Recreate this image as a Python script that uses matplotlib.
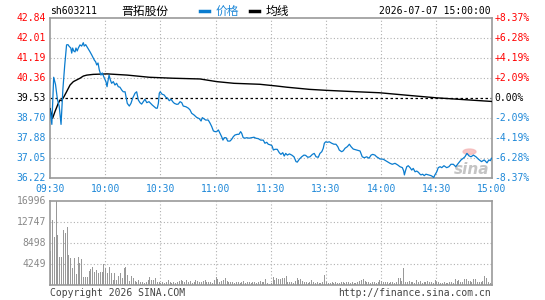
import numpy as np
import matplotlib as mpl
mpl.use('Agg')
import matplotlib.pyplot as plt
from matplotlib.lines import Line2D
from matplotlib.patches import Ellipse

# header / axis texts
symbol = 'sh603211'
name = '晋拓股份'
stamp = '2026-07-07 15:00:00'
prev_close = 39.53
price_levels = [42.84, 42.01, 41.19, 40.36, 39.53, 38.70, 37.88, 37.05, 36.22]
pct_labels = ['+8.37%', '+6.28%', '+4.19%', '+2.09%', '0.00%',
              '-2.09%', '-4.19%', '-6.28%', '-8.37%']
time_labels = ['09:30', '10:00', '10:30', '11:00', '11:30',
               '13:30', '14:00', '14:30', '15:00']
vol_levels = [16996, 12747, 8498, 4249]

# price line (minutes after open, price)
price_t = [0, 1, 2, 3, 4, 5, 6, 7, 8, 9, 9.8, 10.3, 11.3, 11.8, 12.3, 12.9, 13.6,
           14.1, 14.8, 15.4, 16.3, 17.2, 18.1, 18.6, 19.4, 20.5, 21.7, 22.7, 24.1,
           24.8, 25.4, 26.1, 26.8, 27.7, 28.4, 29.5, 30.4, 31.0, 31.3, 32.1, 32.8,
           33.5, 34.4, 35.3, 36.2, 37.1, 38.0, 39.0, 39.8, 40.8, 41.3, 42.0, 43.1,
           44.0, 44.9, 46.2, 47.1, 48.0, 48.9, 49.8, 50.7, 51.6, 52.6, 53.8, 54.7,
           55.6, 56.7, 57.6, 58.3, 58.9, 59.4, 59.9, 60.9, 62.0, 63.0, 64.0, 64.8,
           65.8, 66.7, 67.6, 68.9, 69.7, 70.7, 71.6, 72.4, 73.9, 75.2, 76.1, 77.0,
           78.3, 79.7, 81.1, 82.1, 82.8, 84.6, 86.0, 87.0, 87.9, 88.8, 89.7, 90.6,
           91.5, 92.4, 93.3, 94.0, 94.7, 95.7, 96.6, 97.8, 98.7, 99.6, 100.5, 101.8,
           102.7, 103.6, 104.2, 105.0, 106.0, 106.9, 108.2, 109.6, 110.9, 111.8,
           113.2, 114.5, 115.9, 116.8, 117.8, 118.6, 119.9, 120.7, 121.4, 122.3,
           123.5, 124.6, 125.5, 126.5, 127.3, 128.1, 129.0, 130.1, 131.4, 132.6,
           133.7, 134.4, 135.5, 136.8, 138.0, 138.9, 140.1, 141.3, 142.6, 143.6,
           144.6, 145.8, 146.7, 147.7, 148.5, 149.1, 149.8, 150.7, 151.8, 153.1,
           154.3, 155.4, 156.4, 157.2, 158.5, 159.4, 160.3, 161.6, 162.7, 163.6,
           164.8, 166.7, 168.5, 169.7, 170.8, 172.1, 173.4, 174.5, 175.4, 176.6,
           177.5, 178.4, 179.3, 181.1, 182.4, 183.9, 184.8, 186.0, 187.5, 189.0,
           190.2, 191.5, 192.2, 192.6, 193.3, 193.9, 194.7, 195.7, 196.6, 197.4,
           198.4, 199.3, 200.2, 201.1, 201.6, 202.5, 203.4, 204.3, 205.6, 207.1,
           208.0, 208.5, 209.2, 210.2, 211.0, 212.0, 212.9, 214.1, 215.6, 216.8,
           217.9, 219.2, 220.5, 221.9, 223.4, 224.6, 225.5, 226.6, 227.7, 228.8,
           230.1, 231.5, 233.0, 234.5, 236.0, 237.5, 238.5, 239.3, 240.0]
price_v = [39.05, 38.45, 40.40, 40.10, 39.50, 39.20, 38.45, 39.90, 40.90, 41.74,
           41.75, 41.69, 41.61, 41.40, 41.61, 41.49, 41.45, 41.61, 41.49, 41.61,
           41.74, 41.69, 41.83, 41.69, 41.75, 41.61, 41.46, 41.32, 41.11, 41.04,
           40.91, 40.99, 40.70, 40.49, 40.58, 40.37, 40.22, 40.01, 40.16, 40.49,
           40.29, 40.15, 40.22, 40.08, 40.15, 40.01, 39.99, 39.87, 39.80, 39.80,
           39.60, 39.32, 39.21, 39.32, 39.53, 39.74, 39.80, 39.46, 39.35, 39.29,
           39.39, 39.49, 39.35, 39.39, 39.32, 39.25, 39.18, 39.12, 39.12, 39.32,
           39.74, 39.80, 39.70, 39.67, 39.57, 39.53, 39.43, 39.49, 39.39, 39.32,
           39.28, 39.29, 39.39, 39.35, 39.21, 39.18, 39.12, 39.05, 38.91, 38.84,
           38.74, 38.69, 38.59, 38.73, 38.63, 38.63, 38.50, 38.36, 38.18, 38.15,
           38.15, 38.22, 38.08, 37.94, 37.80, 37.90, 37.90, 37.76, 37.76, 37.83,
           37.94, 38.01, 38.04, 38.04, 38.15, 38.08, 37.90, 37.88, 37.90, 37.88,
           37.90, 37.92, 37.88, 37.86, 37.80, 37.80, 37.67, 37.71, 37.63, 37.60,
           37.56, 37.39, 37.42, 37.42, 37.28, 37.21, 37.28, 37.14, 37.25, 37.18,
           37.23, 37.18, 37.11, 36.91, 36.89, 37.01, 37.11, 37.18, 37.17, 37.09,
           37.11, 37.21, 37.25, 37.11, 37.09, 37.25, 37.32, 37.46, 37.67, 37.73,
           37.71, 37.73, 37.67, 37.63, 37.63, 37.53, 37.39, 37.32, 37.36, 37.46,
           37.53, 37.63, 37.53, 37.43, 37.39, 37.35, 37.11, 37.07, 37.11, 37.05,
           37.18, 37.21, 37.18, 37.11, 37.07, 37.02, 37.01, 36.95, 36.88, 36.84,
           36.80, 36.84, 36.77, 36.70, 36.66, 36.53, 36.36, 36.56, 36.70, 36.74,
           36.66, 36.56, 36.63, 36.49, 36.52, 36.47, 36.39, 36.36, 36.39, 36.33,
           36.39, 36.36, 36.33, 36.29, 36.25, 36.36, 36.49, 36.66, 36.70, 36.66,
           36.74, 36.66, 36.70, 36.80, 36.80, 36.70, 36.84, 36.98, 37.05, 37.11,
           37.25, 37.15, 37.11, 37.18, 37.11, 37.00, 36.91, 36.98, 36.86, 36.98,
           36.95, 37.05]

# average price line
avg_t = [0, 1.4, 2.7, 4.5, 5.4, 6.3, 7.6, 9, 10.9, 12.7, 14.5, 16.3, 18.1, 20,
         23.5, 31, 42, 54, 67, 81.5, 90.6, 100, 114, 123, 128.6, 141, 150, 167,
         179, 195, 210, 220, 230, 240]
avg_v = [39.10, 38.70, 38.98, 39.32, 39.46, 39.43, 39.60, 39.80, 40.08, 40.22,
         40.29, 40.36, 40.45, 40.49, 40.52, 40.54, 40.49, 40.40, 40.36, 40.33,
         40.22, 40.15, 40.11, 40.04, 39.99, 39.90, 39.86, 39.80, 39.76, 39.65,
         39.55, 39.50, 39.45, 39.40]

# volume per minute, 09:30 .. 15:00 (241 bars)
vol = [6880, 13150, 9640, 16996, 10120, 5730, 5730, 11130, 10450, 11800,
       6070, 5400, 3510, 5530, 2160, 5730, 4380, 5260, 1690, 1690,
       1690, 2830, 3240, 3710, 2700, 3030, 2360, 2700, 2560, 4180,
       3370, 2360, 3710, 2360, 1010, 2360, 1010, 1820, 2360, 1350,
       3510, 3710, 2020, 810, 1890, 1350, 810, 540, 1010, 540,
       540, 340, 540, 1010, 1690, 1010, 1010, 1350, 540, 540,
       340, 540, 340, 540, 1010, 680, 340, 540, 340, 540,
       810, 1010, 810, 680, 1010, 540, 810, 470, 670, 1010,
       810, 540, 670, 810, 1010, 540, 670, 540, 470, 1010,
       1690, 1150, 670, 810, 1010, 1350, 810, 670, 540, 670,
       470, 540, 670, 470, 540, 810, 470, 670, 540, 470,
       540, 670, 470, 540, 810, 540, 670, 1150, 340, 200,
       470, 1690, 1010, 1350, 1150, 1210, 1350, 1480, 1890, 670,
       540, 670, 470, 810, 1350, 1010, 1150, 810, 540, 670,
       470, 670, 1010, 540, 470, 540, 340, 470, 670, 2020,
       540, 470, 340, 540, 470, 670, 340, 470, 540, 670,
       470, 540, 670, 470, 540, 340, 470, 670, 810, 1010,
       1150, 810, 670, 540, 470, 540, 670, 470, 540, 1010,
       810, 540, 540, 670, 470, 670, 540, 470, 670, 1350,
       1480, 810, 3510, 670, 540, 810, 540, 670, 470, 1010,
       540, 880, 470, 670, 540, 810, 540, 670, 470, 1010,
       670, 540, 340, 470, 540, 340, 470, 540, 670, 470,
       1150, 810, 1010, 540, 670, 1150, 1210, 810, 810, 670,
       1150, 1210, 670, 540, 670, 810, 1820, 1480, 540, 470, 670]

BLUE = '#0a7ccf'
LBLUE = '#1e88d8'
RED = '#ff0000'
FRAME = '#999999'
GRID = '#b0b0b0'
MONO = 'DejaVu Sans Mono'
CJK = ['Noto Sans CJK SC', 'DejaVu Sans']

W, H = 545, 300
fig = plt.figure(figsize=(W / 100, H / 100), dpi=100)
fig.patch.set_facecolor('white')

def fx(px):
    return px / W

def fy(py):
    return 1 - py / H

x0, x1 = 50, 491.6
ax = fig.add_axes([fx(x0), fy(178.3), fx(x1 - x0), 160 / H])
axv = fig.add_axes([fx(x0), fy(285), fx(x1 - x0), 84 / H])

grid_t = [30, 60, 90, 120, 150, 180, 210]

# price panel
ax.set_xlim(0, 240)
ax.set_ylim(price_levels[-1], price_levels[0])
for lv in price_levels[1:-1]:
    if lv == prev_close:
        continue
    ax.axhline(lv, color=GRID, lw=0.8, ls=(0, (1, 2)), zorder=1)
for t in grid_t:
    ax.axvline(t, color=GRID, lw=0.8, ls=(0, (1, 2)), zorder=1)
ax.axhline(prev_close, color='black', lw=0.9, ls=(0, (2, 2)), zorder=2)

# faint sina watermark
ax.add_patch(Ellipse((228, 37.32), 7, 0.22, color='#f4b8b8', alpha=0.8, zorder=2))
ax.text(229, 36.6, 'sina', color='#c4c4c4', fontsize=11, style='italic',
        fontweight='bold', ha='center', va='center', zorder=2)

ax.plot(avg_t, avg_v, color='black', lw=1.0, zorder=3)
ax.plot(price_t, price_v, color=BLUE, lw=0.9, zorder=4)
ax.set_xticks([])
ax.set_yticks([])
for s in ax.spines.values():
    s.set_color(FRAME)
    s.set_linewidth(1.2)

for lv, pct in zip(price_levels, pct_labels):
    if lv > prev_close:
        c = RED
    elif lv < prev_close:
        c = LBLUE
    else:
        c = 'black'
    ax.annotate(f'{lv:.2f}', xy=(0, lv), xycoords=('axes fraction', 'data'),
                xytext=(-3, 0), textcoords='offset points', ha='right',
                va='center', fontsize=7, family=MONO, color=c)
    ax.annotate(pct, xy=(1, lv), xycoords=('axes fraction', 'data'),
                xytext=(2, 0), textcoords='offset points', ha='left',
                va='center', fontsize=7, family=MONO, color=c)

for i, lab in enumerate(time_labels):
    ax.annotate(lab, xy=(i * 30, 0), xycoords=('data', 'axes fraction'),
                xytext=(0, -7.5), textcoords='offset points', ha='center',
                va='center', fontsize=7, family=MONO, color=LBLUE)

# volume panel
axv.set_xlim(0, 240)
axv.set_ylim(0, vol_levels[0])
for lv in vol_levels[1:]:
    axv.axhline(lv, color=GRID, lw=0.8, ls=(0, (1, 2)), zorder=1)
for t in grid_t:
    axv.axvline(t, color=GRID, lw=0.8, ls=(0, (1, 2)), zorder=1)
axv.bar(np.arange(len(vol)), vol, width=0.55, color='#999999', lw=0,
        align='edge', zorder=2)
axv.set_xticks([])
axv.set_yticks([])
for s in axv.spines.values():
    s.set_color(FRAME)
    s.set_linewidth(1.2)
for lv in vol_levels:
    axv.annotate(str(lv), xy=(0, lv), xycoords=('axes fraction', 'data'),
                 xytext=(-3, 0), textcoords='offset points', ha='right',
                 va='center', fontsize=7, family=MONO, color='#888888')

# header
fig.text(fx(50), fy(11), symbol, fontsize=7, family=MONO, va='center')
fig.text(fx(121), fy(11), name, fontsize=8.5, family=CJK, va='center')
fig.add_artist(Line2D([fx(200), fx(208.5)], [fy(11), fy(11)], color=BLUE, lw=2.5))
fig.text(fx(216), fy(11), '价格', fontsize=8.5, family=CJK, va='center', color=LBLUE)
fig.add_artist(Line2D([fx(250), fx(259)], [fy(11), fy(11)], color='black', lw=2.5))
fig.text(fx(266), fy(11), '均线', fontsize=8.5, family=CJK, va='center')
fig.text(fx(491), fy(11), stamp, fontsize=7, family=MONO, va='center', ha='right')

# footer
fig.text(fx(50), fy(293), 'Copyright 2026 SINA.COM', fontsize=7, family=MONO,
         va='center', color='#444444')
fig.text(fx(491), fy(293), 'http://finance.sina.com.cn', fontsize=7, family=MONO,
         va='center', ha='right', color='#444444')

fig.savefig('out.png', dpi=100)
